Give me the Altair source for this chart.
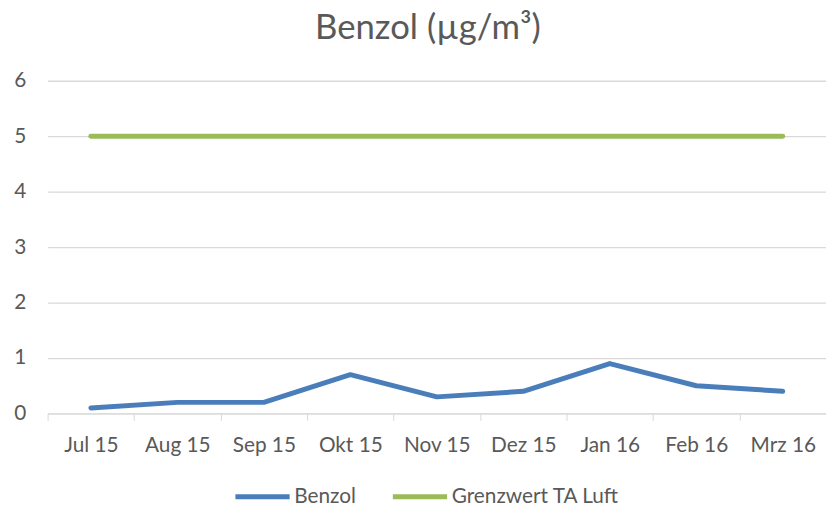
import altair as alt
import pandas as pd

months = ["Jul 15", "Aug 15", "Sep 15", "Okt 15", "Nov 15", "Dez 15", "Jan 16", "Feb 16", "Mrz 16"]
benzol = [0.1, 0.2, 0.2, 0.7, 0.3, 0.4, 0.9, 0.5, 0.4]
grenzwert = [5, 5, 5, 5, 5, 5, 5, 5, 5]
series = ["Benzol", "Grenzwert TA Luft"]
colors = ["#4A7EBB", "#9BBB59"]

rows = []
for m, b, g in zip(months, benzol, grenzwert):
    rows.append({"Monat": m, "Wert": b, "Reihe": series[0]})
    rows.append({"Monat": m, "Wert": g, "Reihe": series[1]})
df = pd.DataFrame(rows)

FONT = "Lato"
TXT = "#595959"
GRID = "#D9D9D9"

chart = alt.Chart(df).mark_line(strokeWidth=5, strokeCap="round", strokeJoin="round").encode(
    x=alt.X("Monat:N", sort=months, title=None,
            scale=alt.Scale(paddingInner=0, paddingOuter=0),
            axis=alt.Axis(labelAngle=0, labelFont=FONT, labelFontSize=21, labelColor=TXT,
                          domainColor=GRID, tickColor=GRID, tickSize=7, tickBand="extent",
                          labelPadding=14, grid=False)),
    y=alt.Y("Wert:Q", title=None,
            scale=alt.Scale(domain=[0, 6], nice=False),
            axis=alt.Axis(values=[0, 1, 2, 3, 4, 5, 6], labelFont=FONT, labelFontSize=21,
                          labelColor=TXT, domain=False, ticks=False, labelPadding=22,
                          gridColor=GRID, gridWidth=1.3)),
    color=alt.Color("Reihe:N", sort=series,
                    scale=alt.Scale(domain=series, range=colors),
                    legend=alt.Legend(title=None, orient="none", direction="horizontal",
                                      legendX=187, legendY=390, padding=0,
                                      symbolType="stroke", symbolStrokeWidth=5, symbolSize=3000,
                                      labelFont=FONT, labelFontSize=21, labelColor=TXT,
                                      labelLimit=400, labelOffset=2, columnPadding=26)),
    order=alt.Order("Reihe:N"),
).properties(
    width=786, height=336,
    title=alt.TitleParams("Benzol (µg/m³)", font=FONT, fontSize=35, fontWeight="normal",
                          color=TXT, anchor="middle", offset=24, dx=-9),
    autosize=alt.AutoSizeParams(type="none"),
    padding={"left": 40, "top": 71, "right": 0, "bottom": 94},
).configure_view(stroke=None)

chart.save("out.html", embed_options={"renderer": "svg", "actions": False})
